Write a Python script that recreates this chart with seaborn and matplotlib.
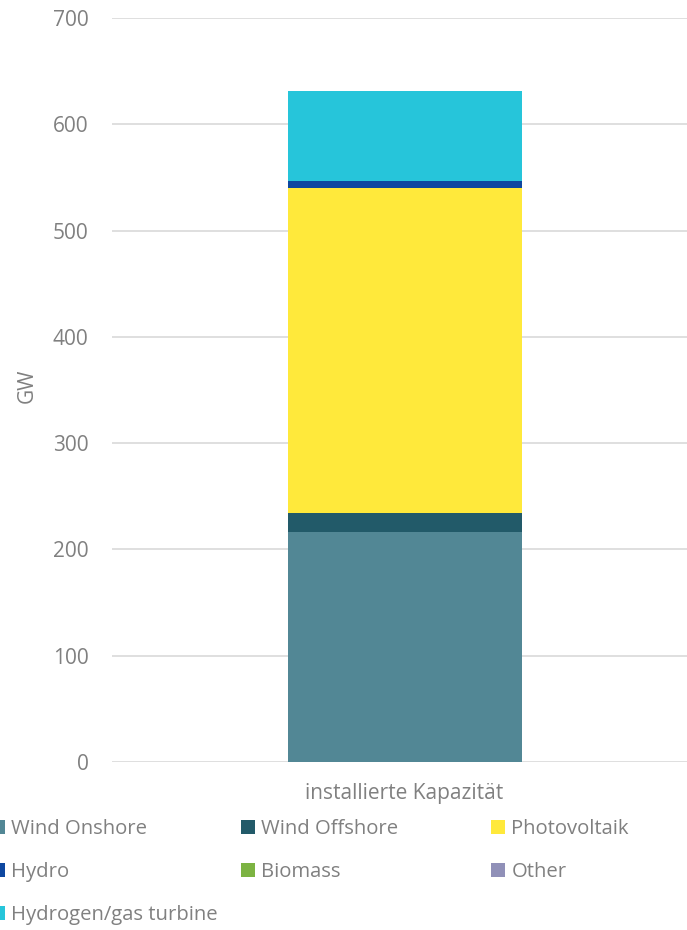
import matplotlib
matplotlib.use("Agg")
import matplotlib.pyplot as plt
from matplotlib.patches import Patch
import seaborn as sns
import pandas as pd

category = ["installierte Kapazität"]
sources = ["Wind Onshore", "Wind Offshore", "Photovoltaik", "Hydro",
           "Biomass", "Other", "Hydrogen/gas turbine"]
capacity_gw = [216.5, 18.0, 306.0, 6.5, 0.0, 0.0, 84.0]
colors = ["#528795", "#225a69", "#ffe93b", "#0e47a0",
          "#7cb342", "#9090b8", "#26c5da"]
y_ticks = [0, 100, 200, 300, 400, 500, 600, 700]

sns.set_theme(style="white")
plt.rcParams["font.family"] = ["Open Sans", "DejaVu Sans"]
text_color = "#808080"
fs_legend = 14.6
fs_axis = 15

W, H = 687, 930
fig = plt.figure(figsize=(W / 100, H / 100), dpi=100)
ax = fig.add_axes([112 / W, (H - 762) / H, 585 / W, (762 - 18) / H])

bottom = 0.0
for src, val, col in zip(sources, capacity_gw, colors):
    df = pd.DataFrame({"Kategorie": category, "GW": [val]})
    sns.barplot(data=df, x="Kategorie", y="GW", color=col, bottom=bottom,
                width=0.40, saturation=1, edgecolor="none", linewidth=0,
                ax=ax, zorder=3)
    bottom += val

ax.set_ylim(0, 700)
ax.set_xlim(-0.5, 0.5)
ax.set_yticks(y_ticks)
ax.yaxis.grid(True, color="#d9d9d9", linewidth=1.2, zorder=0)
ax.xaxis.grid(False)
for s in ax.spines.values():
    s.set_visible(False)
ax.tick_params(axis="y", length=0, pad=17, labelsize=fs_axis, labelcolor=text_color)
ax.tick_params(axis="x", length=0, pad=15, labelsize=fs_axis, labelcolor=text_color)
ax.set_xlabel("")
ax.set_ylabel("GW", fontsize=fs_axis, color=text_color)
ax.yaxis.set_label_coords((38 - 112) / 585, 0.505)

# legend laid out as a 3-column grid, filled row by row
col_x = [-9, 241, 491]
row_y = [829, 872, 915]
for i, (src, col) in enumerate(zip(sources, colors)):
    r, c = divmod(i, 3)
    fig.legend(handles=[Patch(facecolor=col, edgecolor="none", label=src)],
               loc="center left",
               bbox_to_anchor=(col_x[c] / W, 1 - row_y[r] / H),
               frameon=False, fontsize=fs_legend, labelcolor=text_color,
               handlelength=0.7, handleheight=0.7, handletextpad=0.3,
               borderpad=0, borderaxespad=0)

fig.savefig("out.png", dpi=100)
